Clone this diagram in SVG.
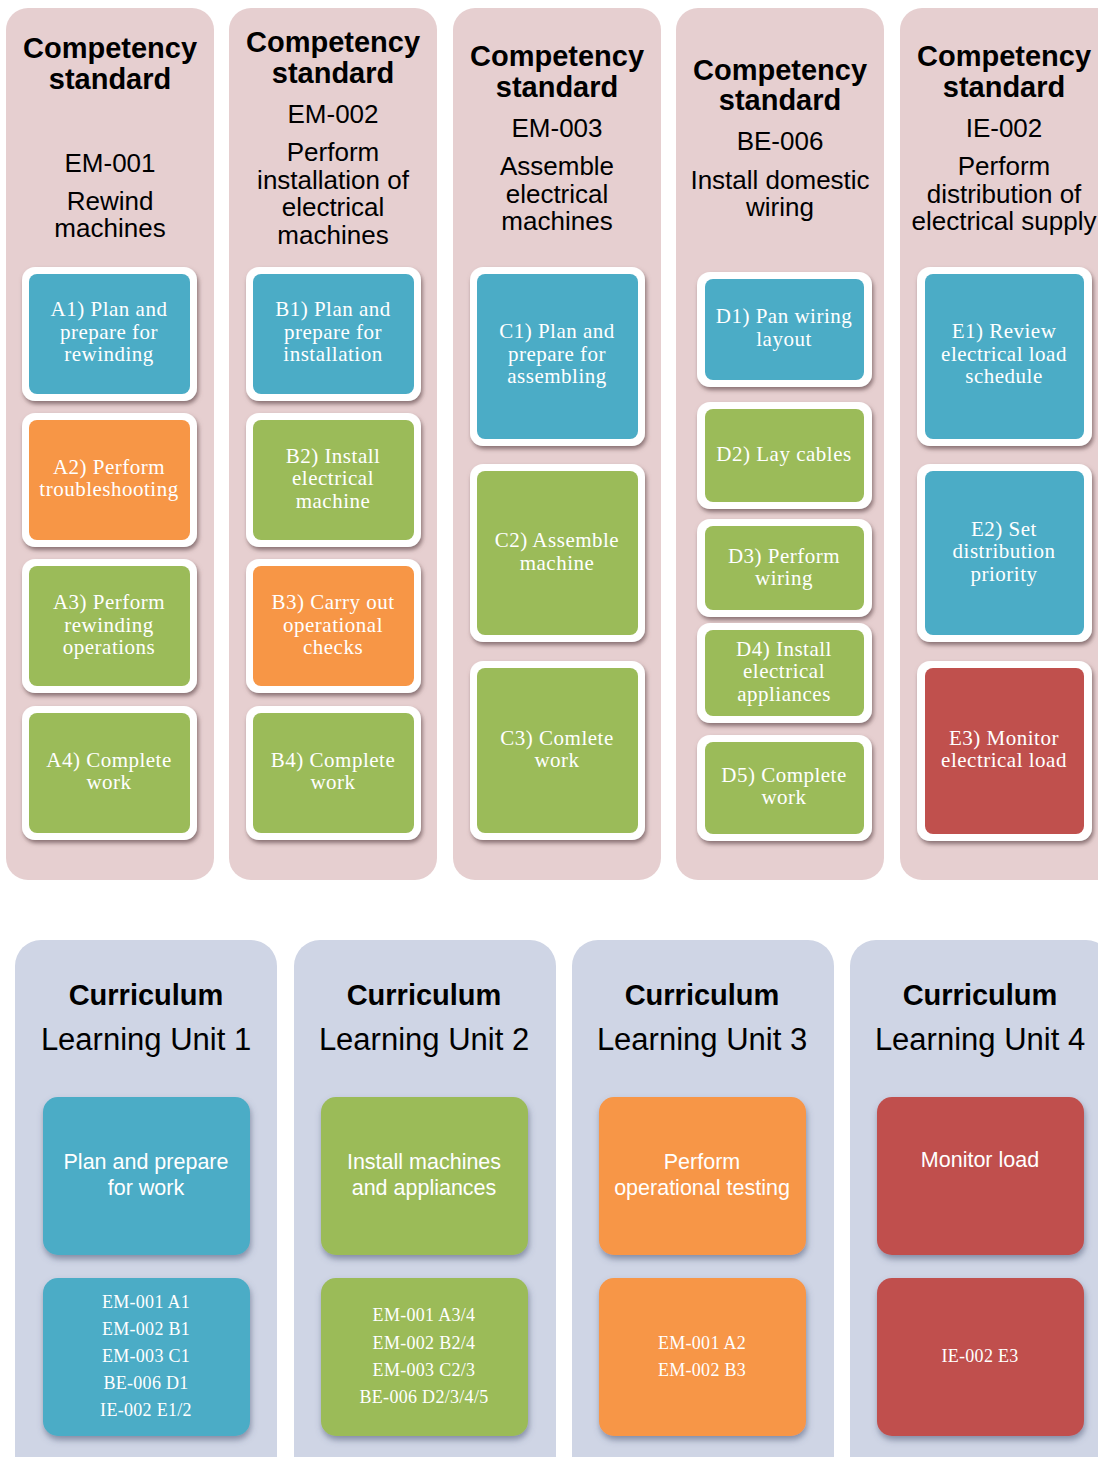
<svg xmlns="http://www.w3.org/2000/svg" width="1098" height="1457" viewBox="0 0 1098 1457">
  <defs>
    <filter id="shadowPink" x="-10%" y="-10%" width="125%" height="130%">
      <feDropShadow dx="1.5" dy="3" stdDeviation="2" flood-color="#6b5254" flood-opacity="0.75"/>
    </filter>
    <filter id="shadowBlue" x="-10%" y="-10%" width="125%" height="130%">
      <feDropShadow dx="1" dy="4" stdDeviation="3" flood-color="#4a5270" flood-opacity="0.55"/>
    </filter>
  </defs>
  <style>
    .col { fill: #e6cfd0; }
    .ucol { fill: #cfd5e5; }
    .frame { fill: #ffffff; filter: url(#shadowPink); }
    .blue { fill: #4bacc6; }
    .green { fill: #9bbb59; }
    .orange { fill: #f79646; }
    .red { fill: #c0504d; }
    .hb { font-family: "Liberation Sans", Arial, sans-serif; font-weight: bold; font-size: 29px; fill: #000; text-anchor: middle; }
    .hr { font-family: "Liberation Sans", Arial, sans-serif; font-size: 26px; fill: #000; text-anchor: middle; }
    .ul { font-family: "Liberation Sans", Arial, sans-serif; font-size: 31px; fill: #000; text-anchor: middle; }
    .bt { font-family: "Liberation Serif", "Times New Roman", serif; font-size: 21px; letter-spacing: 0.5px; fill: #ffffff; text-anchor: middle; }
    .ut { font-family: "Liberation Sans", Arial, sans-serif; font-size: 21.5px; fill: #ffffff; text-anchor: middle; }
    .rt { font-family: "Liberation Serif", "Times New Roman", serif; font-size: 18px; letter-spacing: 0.3px; fill: #ffffff; text-anchor: middle; }
    .ubox { filter: url(#shadowBlue); }
  </style>

  <!-- Competency standard columns -->
  <g id="cs-em001">
    <rect class="col" x="6" y="8" width="208" height="872" rx="22"/>
    <text class="hb" x="110" y="58">Competency</text>
    <text class="hb" x="110" y="89">standard</text>
    <text class="hr" x="110" y="172">EM-001</text>
    <text class="hr" x="110" y="210">Rewind</text>
    <text class="hr" x="110" y="237">machines</text>
  </g>
  <g id="cs-em002">
    <rect class="col" x="229" y="8" width="208" height="872" rx="22"/>
    <text class="hb" x="333" y="52">Competency</text>
    <text class="hb" x="333" y="83">standard</text>
    <text class="hr" x="333" y="123">EM-002</text>
    <text class="hr" x="333" y="161">Perform</text>
    <text class="hr" x="333" y="189">installation of</text>
    <text class="hr" x="333" y="216">electrical</text>
    <text class="hr" x="333" y="244">machines</text>
  </g>
  <g id="cs-em003">
    <rect class="col" x="453" y="8" width="208" height="872" rx="22"/>
    <text class="hb" x="557" y="66">Competency</text>
    <text class="hb" x="557" y="97">standard</text>
    <text class="hr" x="557" y="137">EM-003</text>
    <text class="hr" x="557" y="175">Assemble</text>
    <text class="hr" x="557" y="203">electrical</text>
    <text class="hr" x="557" y="230">machines</text>
  </g>
  <g id="cs-be006">
    <rect class="col" x="676" y="8" width="208" height="872" rx="22"/>
    <text class="hb" x="780" y="80">Competency</text>
    <text class="hb" x="780" y="110">standard</text>
    <text class="hr" x="780" y="150">BE-006</text>
    <text class="hr" x="780" y="189">Install domestic</text>
    <text class="hr" x="780" y="216">wiring</text>
  </g>
  <g id="cs-ie002">
    <rect class="col" x="900" y="8" width="220" height="872" rx="22"/>
    <text class="hb" x="1004" y="66">Competency</text>
    <text class="hb" x="1004" y="97">standard</text>
    <text class="hr" x="1004" y="137">IE-002</text>
    <text class="hr" x="1004" y="175">Perform</text>
    <text class="hr" x="1004" y="203">distribution of</text>
    <text class="hr" x="1004" y="230">electrical supply</text>
  </g>

  <!-- EM-001 elements -->
  <g id="a1">
    <rect class="frame" x="22" y="267" width="175" height="134" rx="13"/>
    <rect class="blue" x="29" y="274" width="161" height="120" rx="8"/>
    <text class="bt" x="109" y="316">A1) Plan and</text>
    <text class="bt" x="109" y="339">prepare for</text>
    <text class="bt" x="109" y="361">rewinding</text>
  </g>
  <g id="a2">
    <rect class="frame" x="22" y="413" width="175" height="134" rx="13"/>
    <rect class="orange" x="29" y="420" width="161" height="120" rx="8"/>
    <text class="bt" x="109" y="474">A2) Perform</text>
    <text class="bt" x="109" y="496">troubleshooting</text>
  </g>
  <g id="a3">
    <rect class="frame" x="22" y="559" width="175" height="134" rx="13"/>
    <rect class="green" x="29" y="566" width="161" height="120" rx="8"/>
    <text class="bt" x="109" y="609">A3) Perform</text>
    <text class="bt" x="109" y="632">rewinding</text>
    <text class="bt" x="109" y="654">operations</text>
  </g>
  <g id="a4">
    <rect class="frame" x="22" y="706" width="175" height="134" rx="13"/>
    <rect class="green" x="29" y="713" width="161" height="120" rx="8"/>
    <text class="bt" x="109" y="767">A4) Complete</text>
    <text class="bt" x="109" y="789">work</text>
  </g>

  <!-- EM-002 elements -->
  <g id="b1">
    <rect class="frame" x="246" y="267" width="175" height="134" rx="13"/>
    <rect class="blue" x="253" y="274" width="161" height="120" rx="8"/>
    <text class="bt" x="333" y="316">B1) Plan and</text>
    <text class="bt" x="333" y="339">prepare for</text>
    <text class="bt" x="333" y="361">installation</text>
  </g>
  <g id="b2">
    <rect class="frame" x="246" y="413" width="175" height="134" rx="13"/>
    <rect class="green" x="253" y="420" width="161" height="120" rx="8"/>
    <text class="bt" x="333" y="463">B2) Install</text>
    <text class="bt" x="333" y="485">electrical</text>
    <text class="bt" x="333" y="508">machine</text>
  </g>
  <g id="b3">
    <rect class="frame" x="246" y="559" width="175" height="134" rx="13"/>
    <rect class="orange" x="253" y="566" width="161" height="120" rx="8"/>
    <text class="bt" x="333" y="609">B3) Carry out</text>
    <text class="bt" x="333" y="632">operational</text>
    <text class="bt" x="333" y="654">checks</text>
  </g>
  <g id="b4">
    <rect class="frame" x="246" y="706" width="175" height="134" rx="13"/>
    <rect class="green" x="253" y="713" width="161" height="120" rx="8"/>
    <text class="bt" x="333" y="767">B4) Complete</text>
    <text class="bt" x="333" y="789">work</text>
  </g>

  <!-- EM-003 elements -->
  <g id="c1">
    <rect class="frame" x="470" y="267" width="175" height="179" rx="13"/>
    <rect class="blue" x="477" y="274" width="161" height="165" rx="8"/>
    <text class="bt" x="557" y="338">C1) Plan and</text>
    <text class="bt" x="557" y="361">prepare for</text>
    <text class="bt" x="557" y="383">assembling</text>
  </g>
  <g id="c2">
    <rect class="frame" x="470" y="464" width="175" height="178" rx="13"/>
    <rect class="green" x="477" y="471" width="161" height="164" rx="8"/>
    <text class="bt" x="557" y="547">C2) Assemble</text>
    <text class="bt" x="557" y="570">machine</text>
  </g>
  <g id="c3">
    <rect class="frame" x="470" y="661" width="175" height="179" rx="13"/>
    <rect class="green" x="477" y="668" width="161" height="165" rx="8"/>
    <text class="bt" x="557" y="745">C3) Comlete</text>
    <text class="bt" x="557" y="767">work</text>
  </g>

  <!-- BE-006 elements -->
  <g id="d1">
    <rect class="frame" x="697" y="272" width="175" height="115" rx="13"/>
    <rect class="blue" x="705" y="279" width="159" height="101" rx="8"/>
    <text class="bt" x="784" y="323">D1) Pan wiring</text>
    <text class="bt" x="784" y="346">layout</text>
  </g>
  <g id="d2">
    <rect class="frame" x="697" y="402" width="175" height="107" rx="13"/>
    <rect class="green" x="705" y="409" width="159" height="93" rx="8"/>
    <text class="bt" x="784" y="461">D2) Lay cables</text>
  </g>
  <g id="d3">
    <rect class="frame" x="697" y="519" width="175" height="98" rx="13"/>
    <rect class="green" x="705" y="526" width="159" height="84" rx="8"/>
    <text class="bt" x="784" y="563">D3) Perform</text>
    <text class="bt" x="784" y="585">wiring</text>
  </g>
  <g id="d4">
    <rect class="frame" x="697" y="623" width="175" height="100" rx="13"/>
    <rect class="green" x="705" y="630" width="159" height="86" rx="8"/>
    <text class="bt" x="784" y="656">D4) Install</text>
    <text class="bt" x="784" y="678">electrical</text>
    <text class="bt" x="784" y="701">appliances</text>
  </g>
  <g id="d5">
    <rect class="frame" x="697" y="735" width="175" height="106" rx="13"/>
    <rect class="green" x="705" y="742" width="159" height="92" rx="8"/>
    <text class="bt" x="784" y="782">D5) Complete</text>
    <text class="bt" x="784" y="804">work</text>
  </g>

  <!-- IE-002 elements -->
  <g id="e1">
    <rect class="frame" x="917" y="267" width="175" height="179" rx="13"/>
    <rect class="blue" x="925" y="274" width="159" height="165" rx="8"/>
    <text class="bt" x="1004" y="338">E1) Review</text>
    <text class="bt" x="1004" y="361">electrical load</text>
    <text class="bt" x="1004" y="383">schedule</text>
  </g>
  <g id="e2">
    <rect class="frame" x="917" y="464" width="175" height="178" rx="13"/>
    <rect class="blue" x="925" y="471" width="159" height="164" rx="8"/>
    <text class="bt" x="1004" y="536">E2) Set</text>
    <text class="bt" x="1004" y="558">distribution</text>
    <text class="bt" x="1004" y="581">priority</text>
  </g>
  <g id="e3">
    <rect class="frame" x="917" y="661" width="175" height="180" rx="13"/>
    <rect class="red" x="925" y="668" width="159" height="166" rx="8"/>
    <text class="bt" x="1004" y="745">E3) Monitor</text>
    <text class="bt" x="1004" y="767">electrical load</text>
  </g>

  <!-- Curriculum learning units -->
  <g id="lu1">
    <rect class="ucol" x="15" y="940" width="262" height="560" rx="26"/>
    <text class="hb" x="146" y="1005">Curriculum</text>
    <text class="ul" x="146" y="1050">Learning Unit 1</text>
    <rect class="blue ubox" x="43" y="1097" width="207" height="158" rx="15"/>
    <text class="ut" x="146" y="1169">Plan and prepare</text>
    <text class="ut" x="146" y="1195">for work</text>
    <rect class="blue ubox" x="43" y="1278" width="207" height="158" rx="15"/>
    <text class="rt" x="146" y="1308">EM-001 A1</text>
    <text class="rt" x="146" y="1335">EM-002 B1</text>
    <text class="rt" x="146" y="1362">EM-003 C1</text>
    <text class="rt" x="146" y="1389">BE-006 D1</text>
    <text class="rt" x="146" y="1416">IE-002 E1/2</text>
  </g>
  <g id="lu2">
    <rect class="ucol" x="294" y="940" width="262" height="560" rx="26"/>
    <text class="hb" x="424" y="1005">Curriculum</text>
    <text class="ul" x="424" y="1050">Learning Unit 2</text>
    <rect class="green ubox" x="321" y="1097" width="207" height="158" rx="15"/>
    <text class="ut" x="424" y="1169">Install machines</text>
    <text class="ut" x="424" y="1195">and appliances</text>
    <rect class="green ubox" x="321" y="1278" width="207" height="158" rx="15"/>
    <text class="rt" x="424" y="1321">EM-001 A3/4</text>
    <text class="rt" x="424" y="1349">EM-002 B2/4</text>
    <text class="rt" x="424" y="1376">EM-003 C2/3</text>
    <text class="rt" x="424" y="1403">BE-006 D2/3/4/5</text>
  </g>
  <g id="lu3">
    <rect class="ucol" x="572" y="940" width="262" height="560" rx="26"/>
    <text class="hb" x="702" y="1005">Curriculum</text>
    <text class="ul" x="702" y="1050">Learning Unit 3</text>
    <rect class="orange ubox" x="599" y="1097" width="207" height="158" rx="15"/>
    <text class="ut" x="702" y="1169">Perform</text>
    <text class="ut" x="702" y="1195">operational testing</text>
    <rect class="orange ubox" x="599" y="1278" width="207" height="158" rx="15"/>
    <text class="rt" x="702" y="1349">EM-001 A2</text>
    <text class="rt" x="702" y="1376">EM-002 B3</text>
  </g>
  <g id="lu4">
    <rect class="ucol" x="850" y="940" width="262" height="560" rx="26"/>
    <text class="hb" x="980" y="1005">Curriculum</text>
    <text class="ul" x="980" y="1050">Learning Unit 4</text>
    <rect class="red ubox" x="877" y="1097" width="207" height="158" rx="15"/>
    <text class="ut" x="980" y="1167">Monitor load</text>
    <rect class="red ubox" x="877" y="1278" width="207" height="158" rx="15"/>
    <text class="rt" x="980" y="1362">IE-002 E3</text>
  </g>

  <!-- no connectors in this chart -->
  <g id="connectors"/>
</svg>
